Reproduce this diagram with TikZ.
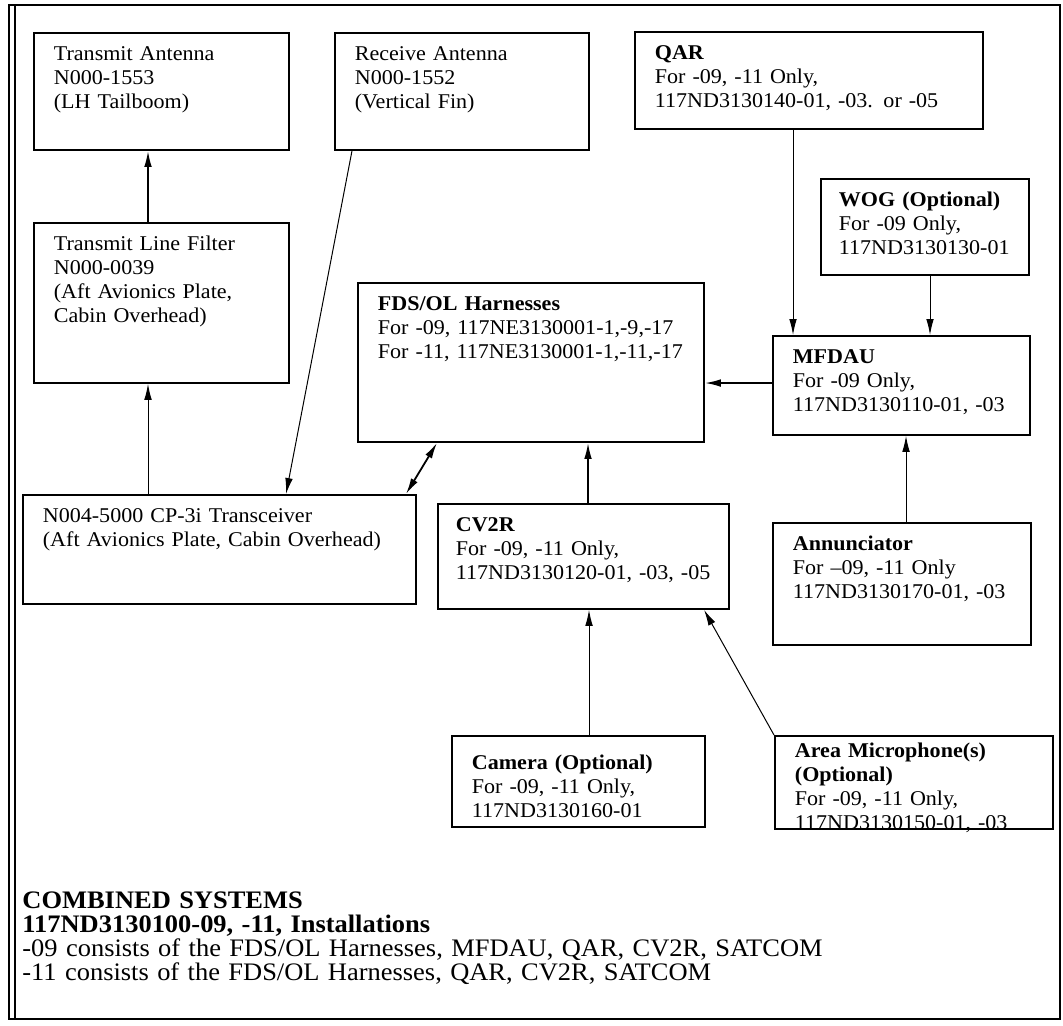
\documentclass[tikz,border=0pt]{standalone}
\usepackage{fontspec}
\setmainfont{Liberation Serif}[FakeStretch=1.05]
\usetikzlibrary{arrows.meta}

\begin{document}
\begin{tikzpicture}[
    x=0.5pt, y=-0.5pt,
    font=\fontsize{10.5}{12}\selectfont,
    unit/.style={draw, line width=0.9pt, anchor=north west, align=left,
                 inner xsep=10pt, inner ysep=5pt, text height=9pt,
                 execute at begin node={\exhyphenpenalty=10000 \hbadness=10000 }},
    link/.style={-{Latex[length=8pt, width=3.8pt]}, line width=0.5pt},
    heavy/.style={link, line width=0.9pt},
    note/.style={anchor=north west, align=left, inner sep=0pt,
                 text height=8.5pt, text width=440pt,
                 font=\fontsize{12.6}{12}\selectfont},
]
\useasboundingbox (0,0) rectangle (1063,1025);

% ----- outer frame -----
\draw[line width=0.8pt] (9,5) rectangle (1060,1019);
\draw[line width=1.4pt] (9,5) -- (1060,5);
\draw[line width=0.8pt] (15,5) -- (15,1019);

% ----- antennas and transceiver chain -----
\node[unit, text width=107.5pt, text depth=39.5pt] (txant) at (33,32)
     {Transmit Antenna\\N000-1553\\(LH Tailboom)};
\node[unit, text width=107pt, text depth=39.5pt] (rxant) at (334,32)
     {Receive Antenna\\N000-1552\\(Vertical Fin)};
\node[unit, text width=107.5pt, text depth=61pt] (filter) at (33,222)
     {Transmit Line Filter\\N000-0039\\(Aft Avionics Plate,\\Cabin Overhead)};
\node[unit, text width=176.5pt, text depth=35.5pt] (xcvr) at (22,494)
     {N004-5000 CP-3i Transceiver\\(Aft Avionics Plate, Cabin Overhead)};

% ----- data units -----
\node[unit, text width=154pt, text depth=29.5pt] (qar) at (634,31)
     {\textbf{QAR}\\For -09, -11 Only,\\117ND3130140-01, -03. or -05};
\node[unit, inner xsep=9pt, text width=86pt, text depth=29pt] (wog) at (820,178)
     {\textbf{WOG (Optional)}\\For -09 Only,\\117ND3130130-01};
\node[unit, text width=153pt, text depth=60.5pt] (fds) at (357,282)
     {\textbf{FDS/OL Harnesses}\\For -09, 117NE3130001-1,-9,-17\\For -11, 117NE3130001-1,-11,-17};
\node[unit, text width=108.5pt, text depth=30.5pt] (mfdau) at (772,335)
     {\textbf{MFDAU}\\For -09 Only,\\117ND3130110-01, -03};
\node[unit, inner xsep=9pt, text width=127.5pt, text depth=33.5pt] (cv2r) at (437,503)
     {\textbf{CV2R}\\For -09, -11 Only,\\117ND3130120-01, -03, -05};
\node[unit, text width=109pt, text depth=42pt] (annun) at (772,522)
     {\textbf{Annunciator}\\For --09, -11 Only\\117ND3130170-01, -03};
\node[unit, text height=12pt, text width=106.5pt, text depth=23.5pt] (camera) at (451,735)
     {\textbf{Camera (Optional)}\\For -09, -11 Only,\\117ND3130160-01};
\node[unit, inner ysep=3pt, text height=8pt, text width=119pt,
      text depth=32.5pt] (mic) at (774,735)
     {\textbf{Area Microphone(s)}\\\textbf{(Optional)}\\For -09, -11 Only,\\117ND3130150-01, -03};

% ----- connectors -----
\draw[heavy] ([xshift=57.5pt]filter.north west) -- ([xshift=57.5pt]txant.south west);
\draw[link] ([xshift=63pt]xcvr.north west) -- ([xshift=57.5pt]filter.south west);
\draw[link] ([xshift=9pt]rxant.south west) -- ([xshift=132pt]xcvr.north west);
\draw[heavy, {Latex[length=8pt, width=3.8pt]}-{Latex[length=8pt, width=3.8pt]}]
     ([xshift=40pt]fds.south west) -- ([xshift=192pt]xcvr.north west);
\draw[heavy] ([xshift=75.5pt]cv2r.north west) -- ([xshift=115.5pt]fds.south west);
\draw[heavy] ([yshift=-24pt]mfdau.north west) -- ([yshift=-50.5pt]fds.north east);
\draw[link] ([xshift=79.5pt]qar.south west) -- ([xshift=10.5pt]mfdau.north west);
\draw[link] ([xshift=55pt]wog.south west) -- ([xshift=79pt]mfdau.north west);
\draw[link] ([xshift=67pt]annun.north west) -- ([xshift=67pt]mfdau.south west);
\draw[link] ([xshift=69pt]camera.north west) -- ([xshift=76pt]cv2r.south west);
\draw[link] (mic.north west) -- ([xshift=133.5pt]cv2r.south west);

% ----- installation note -----
\node[note] (summary) at (22,891)
     {\textbf{COMBINED SYSTEMS}\\
      \textbf{117ND3130100-09, -11, Installations}\\
      -09 consists of the FDS/OL Harnesses, MFDAU, QAR, CV2R, SATCOM\\
      -11 consists of the FDS/OL Harnesses, QAR, CV2R, SATCOM};

\end{tikzpicture}
\end{document}
